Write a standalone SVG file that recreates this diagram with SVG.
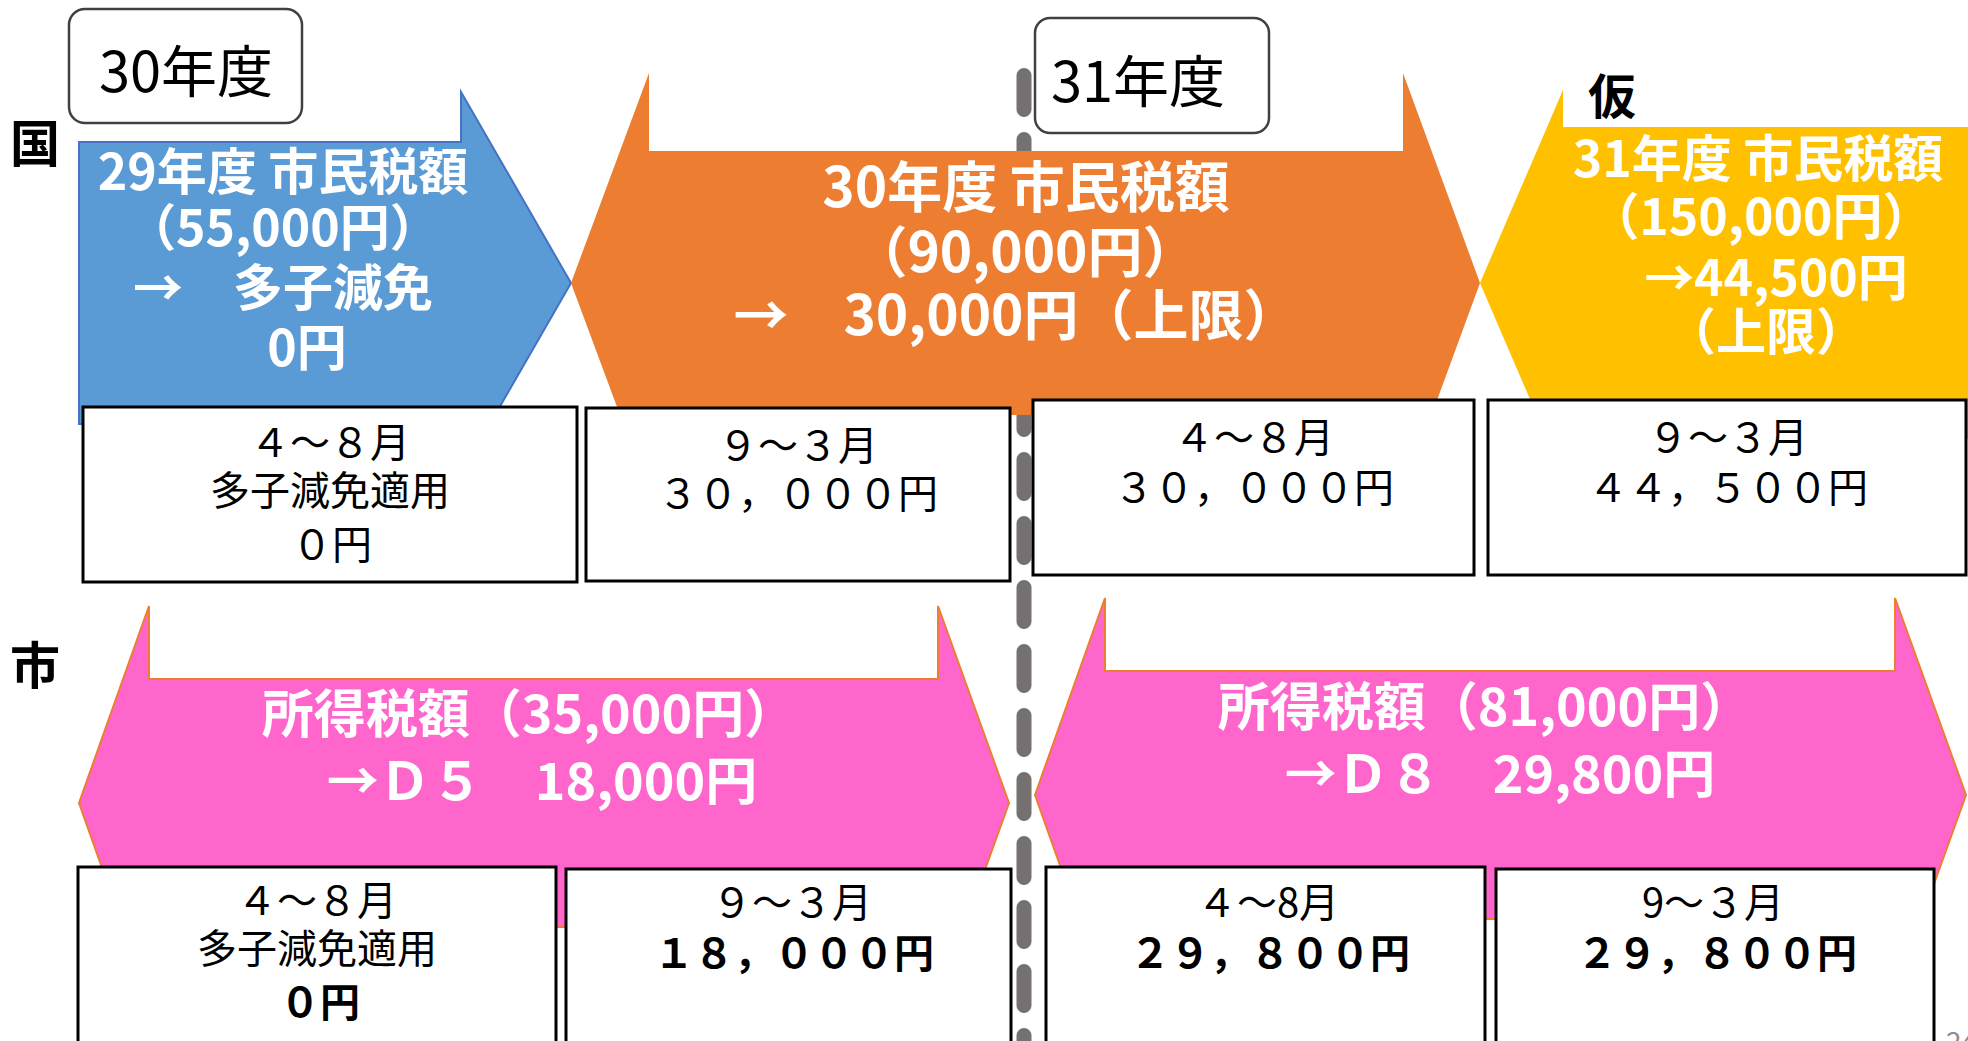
<svg xmlns="http://www.w3.org/2000/svg" width="1968" height="1041" viewBox="0 0 1968 1041">
<style>
text{font-family:"Noto Sans CJK JP","Noto Sans",sans-serif;text-anchor:middle}
.w{fill:#fff;font-weight:700}
.b{fill:#000;font-size:40px}
.bb{fill:#000;font-size:40px;font-weight:700}
.lbl{fill:#000;font-size:50px;font-weight:700}
.yr{fill:#000;font-size:56px}
.cell{fill:#fff;stroke:#000;stroke-width:3}
.yrbox{fill:#fff;stroke:#404040;stroke-width:2.5}
.pink{fill:#FF66CC;stroke:#ED7D31;stroke-width:2}
</style>
<rect width="1968" height="1041" fill="#fff"/>
<g id="connectors">
<line x1="1024" y1="75.5" x2="1024" y2="1060" stroke="#767171" stroke-width="15" stroke-dasharray="34 30" stroke-linecap="round"/>
</g>
<g id="label-kuni"><text class="lbl" x="35" y="162">国</text></g>
<g id="label-shi"><text class="lbl" x="35" y="684">市</text></g>
<g id="label-kari"><text class="lbl" x="1612" y="114" style="font-size:48px">仮</text></g>
<g id="year30"><rect class="yrbox" x="69" y="9" width="233" height="114" rx="16"/><text class="yr" x="186" y="92">30年度</text></g>
<g id="arrow-blue">
<path d="M79,142 H461 V92 L571,283 L461,474 V424 H79 Z" fill="#5B9BD5" stroke="#4472C4" stroke-width="2"/>
<text class="w" style="font-size:50px" x="283" y="190">29年度 市民税額</text>
<text class="w" style="font-size:50px" x="283" y="246">（55,000円）</text>
<text class="w" style="font-size:50px" x="283" y="306">→　多子減免</text>
<text class="w" style="font-size:50px" x="307" y="366">0円</text>
</g>
<g id="arrow-orange">
<path d="M571,283 L649,73 V151 H1403 V73 L1480,283 L1403,493 V415 H649 V493 Z" fill="#ED7D31"/>
<text class="w" style="font-size:55px" x="1026" y="207">30年度 市民税額</text>
<text class="w" style="font-size:55px" x="1025" y="272">（90,000円）</text>
<text class="w" style="font-size:55px" x="1016" y="335">→　30,000円（上限）</text>
</g>
<g id="year31"><rect class="yrbox" x="1035" y="18" width="234" height="115" rx="15"/><text class="yr" x="1138" y="102">31年度</text></g>
<g id="arrow-yellow">
<path d="M1480,283 L1563,90 V127 H1975 V439 H1563 V476 Z" fill="#FFC000"/>
<text class="w" style="font-size:50px" x="1758" y="177">31年度 市民税額</text>
<text class="w" style="font-size:50px" x="1761" y="235">（150,000円）</text>
<text class="w" style="font-size:50px" x="1776" y="296">→44,500円</text>
<text class="w" style="font-size:50px" x="1766" y="350">（上限）</text>
</g>
<g id="arrow-pink1">
<path class="pink" d="M79,803 L149,606 V679 H938 V606 L1009,803 L938,1000 V927 H149 V1000 Z"/>
<text class="w" style="font-size:52px" x="529" y="733">所得税額（35,000円）</text>
<text class="w" style="font-size:52px" x="542" y="800">→Ｄ５　18,000円</text>
</g>
<g id="arrow-pink2">
<path class="pink" d="M1035,795 L1105,598 V671 H1895 V598 L1966,795 L1895,992 V919 H1105 V992 Z"/>
<text class="w" style="font-size:52px" x="1485" y="726">所得税額（81,000円）</text>
<text class="w" style="font-size:52px" x="1500" y="793">→Ｄ８　29,800円</text>
</g>
<g id="cell-kuni-30-1">
<rect class="cell" x="83" y="407" width="494" height="175"/>
<text class="b" x="330" y="457">４～８月</text>
<text class="b" x="330" y="505">多子減免適用</text>
<text class="b" x="332" y="559">０円</text>
</g>
<g id="cell-kuni-30-2">
<rect class="cell" x="586" y="408" width="424" height="173"/>
<text class="b" x="798" y="460">９～３月</text>
<text class="b" x="798" y="508">３０，０００円</text>
</g>
<g id="cell-kuni-31-1">
<rect class="cell" x="1033" y="400" width="441" height="175"/>
<text class="b" x="1254" y="452">４～８月</text>
<text class="b" x="1254" y="502">３０，０００円</text>
</g>
<g id="cell-kuni-31-2">
<rect class="cell" x="1488" y="400" width="478" height="175"/>
<text class="b" x="1728" y="452">９～３月</text>
<text class="b" x="1728" y="502">４４，５００円</text>
</g>
<g id="cell-shi-30-1">
<rect class="cell" x="78" y="867" width="478" height="200"/>
<text class="b" x="317" y="915">４～８月</text>
<text class="b" x="317" y="963">多子減免適用</text>
<text class="bb" x="320" y="1017">０円</text>
</g>
<g id="cell-shi-30-2">
<rect class="cell" x="566" y="869" width="445" height="200"/>
<text class="b" x="792" y="917">９～３月</text>
<text class="bb" x="794" y="968">１８，０００円</text>
</g>
<g id="cell-shi-31-1">
<rect class="cell" x="1046" y="867" width="439" height="200"/>
<text class="b" x="1268" y="917">４～8月</text>
<text class="bb" x="1270" y="968">２９，８００円</text>
</g>
<g id="cell-shi-31-2">
<rect class="cell" x="1496" y="869" width="438" height="200"/>
<text class="b" x="1713" y="917">9～３月</text>
<text class="bb" x="1717" y="968">２９，８００円</text>
</g>
<g id="page-number"><text x="1946" y="1052" style="font-size:28px;fill:#8c8c8c;text-anchor:start">24</text></g>
</svg>
